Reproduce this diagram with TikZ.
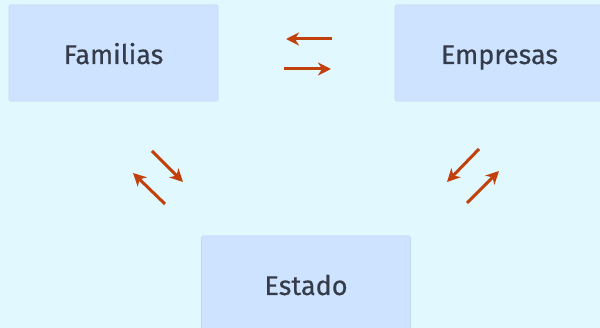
\documentclass[tikz,border=0pt]{standalone}
\usepackage{fontspec}
\setmainfont{Fira Sans}
\newfontfamily\rotulo{Fira Sans}[FakeBold=0.5]
\usetikzlibrary{arrows.meta}

\definecolor{fondo}{HTML}{E1F8FF}
\definecolor{caja}{HTML}{CDE3FF}
\definecolor{borde}{HTML}{C2D8F5}
\definecolor{texto}{HTML}{353B48}
\definecolor{flecha}{HTML}{C2400C}

\tikzset{
  sector/.style={draw=borde, fill=caja, rounded corners=1.5pt, line width=0.6pt,
    minimum width=209pt, minimum height=96pt, inner sep=0pt,
    text height=22pt, text depth=0pt,
    text=texto, font=\rotulo\fontsize{27}{30}\selectfont},
  flujo/.style={draw=flecha, line width=3pt, -{Stealth[length=13pt,width=13pt,inset=4pt]}}
}

\begin{document}
\begin{tikzpicture}[x=1pt,y=-1pt]

  \clip (0,0) rectangle (600,328);
  \fill[fondo] (0,0) rectangle (600,328);

  \node (familias) [sector] at (113.5,53) {Familias};
  \node (empresas) [sector] at (499.5,53) {Empresas};
  \node (estado) [sector] at (306,284) {Estado};

  % familias - empresas
  \coordinate (fe1) at (332,39);
  \coordinate (fe2) at (286,39);
  \coordinate (fe3) at (284,69);
  \coordinate (fe4) at (331,69);
  \draw[flujo] (fe1) -- (fe2);
  \draw[flujo] (fe3) -- (fe4);

  % familias - estado
  \coordinate (fs1) at (152,151);
  \coordinate (fs2) at (183,182);
  \coordinate (fs3) at (165,204);
  \coordinate (fs4) at (133,173);
  \draw[flujo] (fs1) -- (fs2);
  \draw[flujo] (fs3) -- (fs4);

  % empresas - estado
  \coordinate (es1) at (479,149);
  \coordinate (es2) at (447,182);
  \coordinate (es3) at (467,203);
  \coordinate (es4) at (499,171);
  \draw[flujo] (es1) -- (es2);
  \draw[flujo] (es3) -- (es4);

\end{tikzpicture}
\end{document}
